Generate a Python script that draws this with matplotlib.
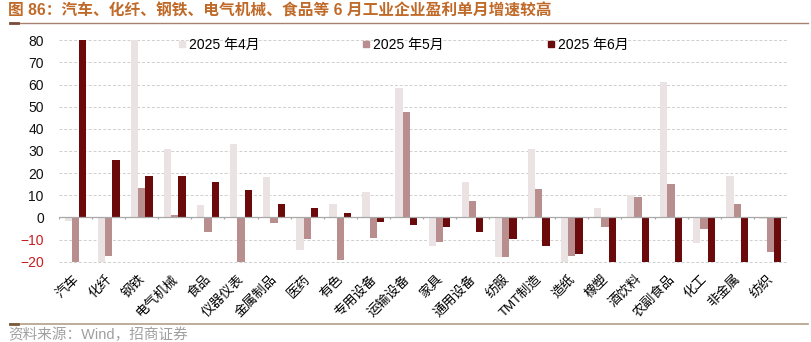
import numpy as np
import matplotlib
matplotlib.use('Agg')
import matplotlib.pyplot as plt
import matplotlib.transforms as mtransforms
from matplotlib.lines import Line2D

plt.rcParams['font.family'] = ['Liberation Sans', 'Noto Sans CJK SC', 'DejaVu Sans']

### industries and monthly profit growth (%), axis clipped at -20 / 80
industries = ['汽车', '化纤', '钢铁', '电气机械', '食品', '仪器仪表', '金属制品', '医药',
              '有色', '专用设备', '运输设备', '家具', '通用设备', '纺服', 'TMT制造', '造纸',
              '橡塑', '酒饮料', '农副食品', '化工', '非金属', '纺织']
apr_2025 = [-1.8, -20, 80, 30.7, 5.5, 33.1, 18.3, -14.8, 6.0, 11.3, 58.5, -12.8,
            16.1, -18.1, 30.8, -20, 4.3, 10.1, 61.0, -11.7, 18.6, -0.8]
may_2025 = [-20, -17.3, 13.1, 1.2, -6.8, -20, -2.7, -9.8, -19.3, -9.5, 47.7, -11.0,
            7.5, -18.1, 12.9, -17.5, -4.2, 9.0, 15.0, -5.4, 6.0, -15.8]
jun_2025 = [80, 25.9, 18.8, 18.6, 15.9, 12.5, 6.0, 4.2, 1.8, -2.3, -3.5, -4.4,
            -6.8, -9.9, -12.8, -16.4, -20, -20, -20, -20, -20, -20]
series_names = ['2025 年4月', '2025 年5月', '2025 年6月']
y_ticks = [-20, -10, 0, 10, 20, 30, 40, 50, 60, 70, 80]

colors = ['#ebe3e3', '#b88e8e', '#6a0a0a']

fig = plt.figure(figsize=(8.12, 3.42), dpi=100)
ax = fig.add_axes([0.0727, 0.2316, 0.8963, 0.654])

x = np.arange(len(industries))
w = 0.22
for i, (vals, name, c) in enumerate(zip([apr_2025, may_2025, jun_2025], series_names, colors)):
    ax.bar(x + (i - 1) * w, vals, width=w, color=c, label=name, zorder=3)

ax.set_xlim(-0.5, len(industries) - 0.5)
ax.set_ylim(-20.5, 80.5)

### dashed grid, zero line with small ticks at category boundaries
ax.set_yticks(y_ticks)
ax.yaxis.grid(True, linestyle=(0, (3, 2)), color='#cfcfcf', linewidth=0.7, zorder=0)
ax.axhline(0, color='#a8a8a8', linewidth=0.9, zorder=4)
ax.vlines(np.arange(len(industries) + 1) - 0.5, -0.9, 0, color='#a8a8a8', linewidth=0.9, zorder=4)

for s in ax.spines.values():
    s.set_visible(False)

ax.tick_params(axis='y', length=0, pad=11, labelsize=10)
for lbl, v in zip(ax.get_yticklabels(), y_ticks):
    lbl.set_color('#c81e1e' if v < 0 else '#111111')

ax.set_xticks(x)
ax.set_xticklabels(industries, rotation=45, ha='right', va='baseline', rotation_mode='anchor',
                   fontsize=9.5)
ax.tick_params(axis='x', length=0, pad=12)
### nudge the slanted labels a little to the right
shift = mtransforms.ScaledTranslation(0.035, 0, fig.dpi_scale_trans)
for lbl in ax.get_xticklabels():
    lbl.set_transform(lbl.get_transform() + shift)

### legend across the top
handles = [Line2D([], [], marker='s', linestyle='', markersize=5, color=c) for c in colors]
ax.legend(handles, series_names, loc='upper left', bbox_to_anchor=(0.155, 1.03), ncol=3,
          frameon=False, fontsize=10, handlelength=0.6, handletextpad=0.2,
          columnspacing=7.4, borderaxespad=0)

### title, separators and source
fig.text(0.01, 0.968, '图 86：汽车、化纤、钢铁、电气机械、食品等 6 月工业企业盈利单月增速较高',
         fontsize=11.3, fontweight='bold', color='#c06a2a', va='center', ha='left')
fig.add_artist(Line2D([0.012, 0.995], [0.932, 0.932], color='#a88270', linewidth=1.0))
fig.add_artist(Line2D([0.012, 0.022], [0.932, 0.932], color='#7a4a3a', linewidth=2.0))
fig.add_artist(Line2D([0.012, 0.995], [0.053, 0.053], color='#b0a088', linewidth=1.2))
fig.add_artist(Line2D([0.012, 0.022], [0.053, 0.053], color='#7a5a3a', linewidth=2.0))
fig.text(0.01, 0.022, '资料来源：Wind，招商证券', fontsize=10.5, color='#a0a0a0',
         va='center', ha='left')

plt.savefig('out.png', dpi=100)
